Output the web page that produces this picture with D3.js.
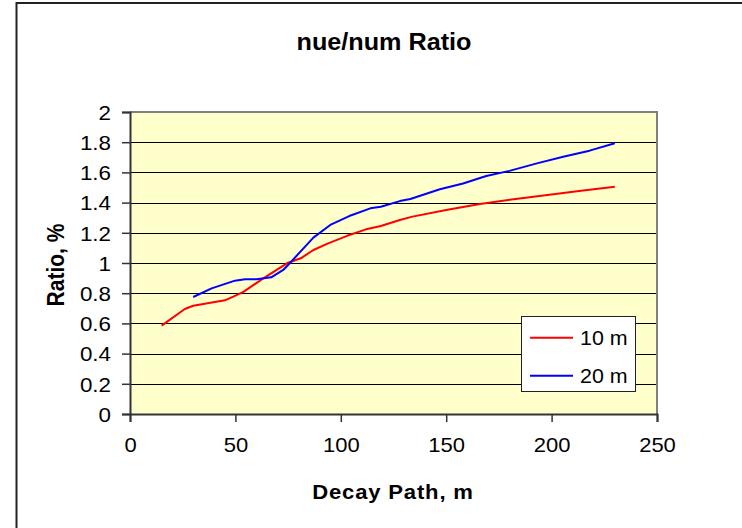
<!DOCTYPE html>
<html>
<head>
<meta charset="utf-8">
<script src="https://cdn.jsdelivr.net/npm/d3@7"></script>
<style>
  html, body { margin: 0; padding: 0; background: #fff; }
  svg { display: block; }
  text { font-family: "Liberation Sans", Arial, sans-serif; }
</style>
</head>
<body>
<script>
// ---- data ----
const x10 = [15, 26, 30, 45, 49, 54, 62.5, 75, 81, 87, 94, 103, 112, 119, 128, 134, 150, 166, 182, 198, 214, 230];
const y10 = [0.585, 0.695, 0.717, 0.753, 0.777, 0.81, 0.892, 1.002, 1.031, 1.086, 1.13, 1.18, 1.223, 1.245, 1.285, 1.307, 1.351, 1.391, 1.422, 1.45, 1.479, 1.505];
const x20 = [30, 38.7, 49.8, 54.5, 60, 67, 72.7, 76, 87, 95, 104, 114, 119, 128, 133, 147, 158, 169, 180, 193, 205.5, 218, 230];
const y20 = [0.775, 0.832, 0.883, 0.892, 0.892, 0.905, 0.954, 1.002, 1.168, 1.252, 1.311, 1.362, 1.373, 1.41, 1.424, 1.488, 1.527, 1.576, 1.61, 1.66, 1.704, 1.744, 1.793];
const seriesNames = ["10 m", "20 m"];
const xTicks = [0, 50, 100, 150, 200, 250];
const yTicks = [0, 0.2, 0.4, 0.6, 0.8, 1, 1.2, 1.4, 1.6, 1.8, 2];
const titleText = "nue/num Ratio";
const xTitle = "Decay Path, m";
const yTitle = "Ratio, %";

// ---- layout ----
const W = 742, H = 528;
const L = 130, R = 657, T = 112, B = 414;
const colors = ["#ff0000", "#0000ff"];

const svg = d3.select("body").append("svg").attr("width", W).attr("height", H);
svg.append("rect").attr("width", W).attr("height", H).attr("fill", "#fff");
// outer frame
svg.append("rect").attr("x", 16.5).attr("y", 3).attr("width", W + 10).attr("height", H + 10)
  .attr("fill", "none").attr("stroke", "#222").attr("stroke-width", 2);

const x = d3.scaleLinear().domain([0, 250]).range([L, R]);
const y = d3.scaleLinear().domain([0, 2]).range([B, T]);

// plot background
svg.append("rect").attr("x", L).attr("y", T).attr("width", R - L).attr("height", B - T).attr("fill", "#ffffcc");

// gridlines
svg.append("g").selectAll("line").data(yTicks.filter(v => v > 0 && v < 2)).join("line")
  .attr("x1", L).attr("x2", R).attr("y1", d => Math.round(y(d)) + 0.5).attr("y2", d => Math.round(y(d)) + 0.5)
  .attr("stroke", "#000").attr("stroke-width", 1);

// plot border top/right
svg.append("path").attr("d", `M${L},${T} H${R} V${B}`).attr("fill", "none").attr("stroke", "#808080").attr("stroke-width", 2);

// lines
const line = d3.line().x(d => x(d[0])).y(d => y(d[1]));
const data = [x10.map((v, i) => [v, y10[i]]), x20.map((v, i) => [v, y20[i]])];
svg.append("g").selectAll("path").data(data).join("path")
  .attr("d", line).attr("fill", "none").attr("stroke", (d, i) => colors[i]).attr("stroke-width", 2)
  .attr("stroke-linejoin", "round");

// axes
const yAxis = svg.append("g").attr("transform", `translate(${L},0)`)
  .call(d3.axisLeft(y).tickValues(yTicks).tickSize(8).tickFormat(d3.format("~g")));
yAxis.select(".domain").attr("stroke", "#333").attr("stroke-width", 2);
yAxis.selectAll(".tick line").attr("stroke", "#333").attr("stroke-width", 1.5);
yAxis.selectAll(".tick text").attr("x", 0).attr("dy", "0.36em")
  .attr("transform", "translate(-19,0) scale(1.12,1)")
  .attr("font-size", 20).attr("fill", "#000").attr("text-anchor", "end").attr("font-family", null);

const xAxis = svg.append("g").attr("transform", `translate(0,${B})`)
  .call(d3.axisBottom(x).tickValues(xTicks).tickSize(8).tickFormat(d3.format("d")));
xAxis.select(".domain").attr("stroke", "#333").attr("stroke-width", 2);
xAxis.selectAll(".tick line").attr("stroke", "#333").attr("stroke-width", 1.5);
xAxis.selectAll(".tick text").attr("y", 0).attr("dy", 0)
  .attr("transform", "translate(0,38) scale(1.1,1)")
  .attr("font-size", 20).attr("fill", "#000").attr("font-family", null);

// titles
svg.append("text").attr("transform", "translate(384,50) scale(1.05,1)")
  .attr("text-anchor", "middle").attr("font-size", 24).attr("font-weight", "bold").text(titleText);
svg.append("text").attr("transform", "translate(393,499) scale(1.05,1)")
  .attr("text-anchor", "middle").attr("font-size", 21).attr("font-weight", "bold")
  .attr("letter-spacing", 0.8).text(xTitle);
svg.append("text").attr("transform", "translate(64,265) scale(1.1,1) rotate(-90)")
  .attr("text-anchor", "middle").attr("font-size", 21).attr("font-weight", "bold").text(yTitle);

// legend
const lg = svg.append("g");
lg.append("rect").attr("x", 521.5).attr("y", 316.5).attr("width", 114).attr("height", 75)
  .attr("fill", "#fff").attr("stroke", "#222").attr("stroke-width", 1);
seriesNames.forEach((name, i) => {
  const ly = 337.7 + i * 38;
  lg.append("line").attr("x1", 530).attr("x2", 573).attr("y1", ly).attr("y2", ly)
    .attr("stroke", colors[i]).attr("stroke-width", 2);
  lg.append("text").attr("transform", `translate(580,${ly + 7}) scale(1.02,1)`)
    .attr("font-size", 21).text(name);
});
</script>
</body>
</html>
